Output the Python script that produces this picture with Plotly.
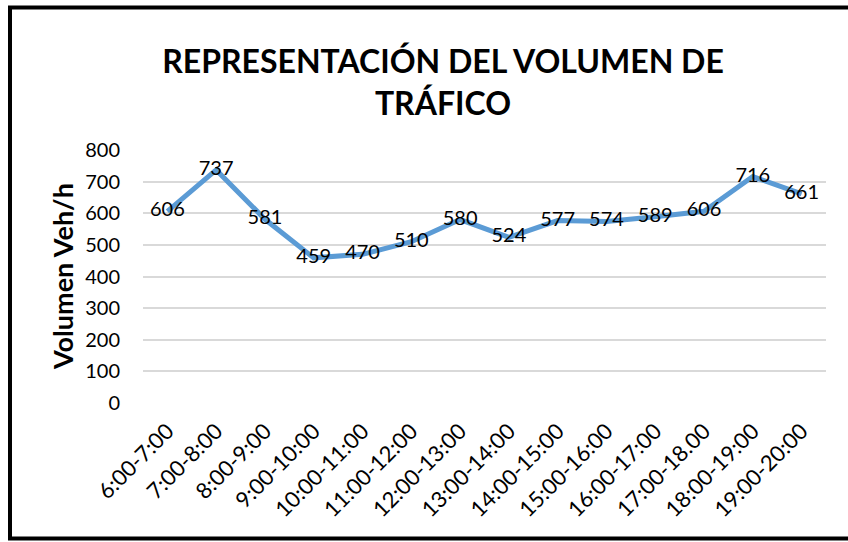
import plotly.graph_objects as go

categories = ["6:00-7:00", "7:00-8:00", "8:00-9:00", "9:00-10:00", "10:00-11:00",
              "11:00-12:00", "12:00-13:00", "13:00-14:00", "14:00-15:00", "15:00-16:00",
              "16:00-17:00", "17:00-18.00", "18:00-19:00", "19:00-20:00"]
volumes = [606, 737, 581, 459, 470, 510, 580, 524, 577, 574, 589, 606, 716, 661]
y_ticks = [0, 100, 200, 300, 400, 500, 600, 700, 800]

W, H = 848, 542
L, R, T, B = 143, 22, 150, 139
pw, ph = W - L - R, H - T - B

def px_x(p):
    return (p - L) / pw

def px_y(p):
    return (H - B - p) / ph

FONT = "Lato, Carlito, Calibri, sans-serif"

fig = go.Figure()
fig.add_trace(go.Scatter(
    x=categories, y=volumes, mode="lines+text",
    line=dict(color="#5B9BD5", width=5),
    text=[str(v) for v in volumes], textposition="middle center",
    textfont=dict(family=FONT, size=20, color="#000000"),
    hoverinfo="skip", showlegend=False, cliponaxis=False,
))

fig.update_layout(
    width=W, height=H,
    margin=dict(l=L, r=R, t=T, b=B, autoexpand=False),
    paper_bgcolor="white", plot_bgcolor="white",
    title=dict(text="<b>REPRESENTACIÓN DEL VOLUMEN DE<br>TRÁFICO</b>",
               x=443 / W, xanchor="center",
               y=1 - 73 / H, yanchor="middle",
               font=dict(family=FONT, size=32, color="#000000")),
    xaxis=dict(type="category", range=[-0.5, 13.5], tickangle=-45,
               showgrid=False, showline=False, zeroline=False, ticks="",
               ticklabelstandoff=10, automargin=False,
               tickfont=dict(family=FONT, size=22, color="#000000")),
    yaxis=dict(range=[0, 800], tickvals=y_ticks, showgrid=True,
               gridcolor="#D9D9D9", gridwidth=1.5, zeroline=False, showline=False,
               ticks="", ticklabelstandoff=22, automargin=False,
               tickfont=dict(family=FONT, size=20, color="#000000")),
    annotations=[dict(text="<b>Volumen Veh/h</b>", xref="paper", yref="paper",
                      x=px_x(62), y=px_y(277), xanchor="center", yanchor="middle",
                      textangle=-90, showarrow=False,
                      font=dict(family=FONT, size=27, color="#000000"))],
    shapes=[dict(type="rect", xref="paper", yref="paper",
                 x0=px_x(10), x1=px_x(870), y0=px_y(538.5), y1=px_y(7.5),
                 line=dict(color="#000000", width=4), layer="above")],
)

fig.write_html("out.html", config={"displayModeBar": False},
               post_script="document.body.style.margin='0px';document.body.style.overflow='hidden';")
